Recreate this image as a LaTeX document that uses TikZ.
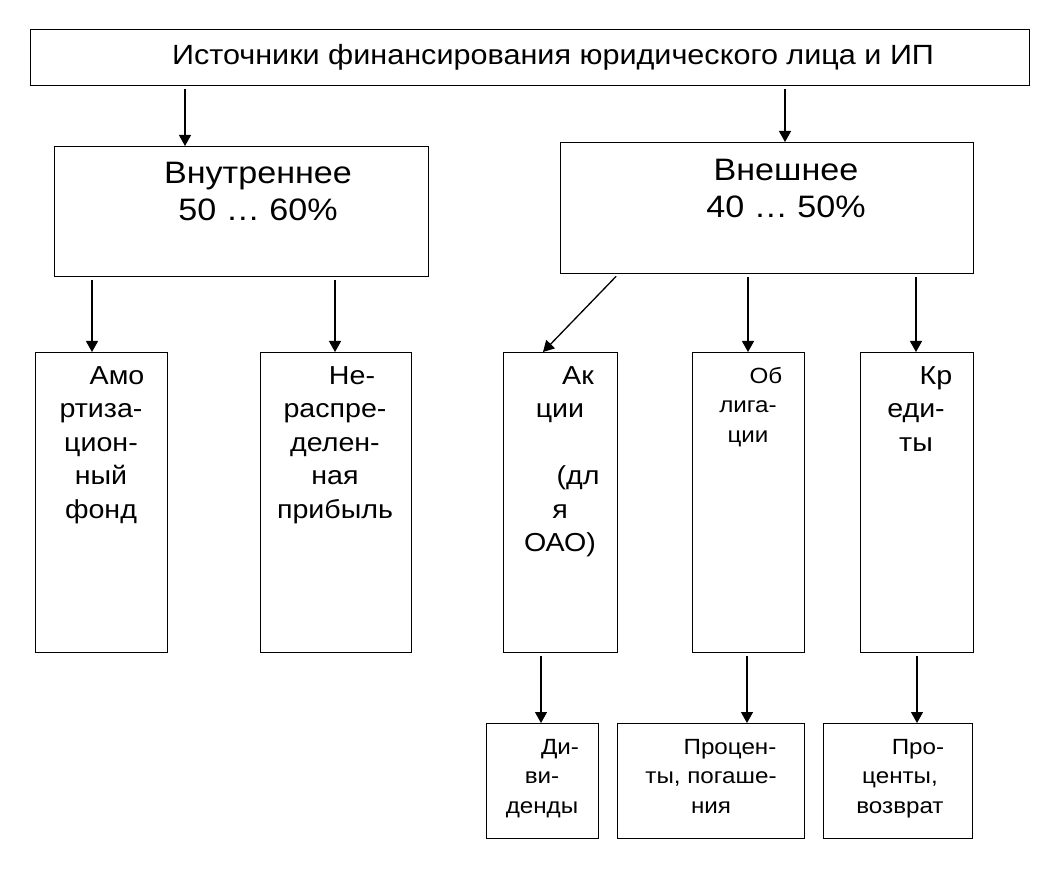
\documentclass[tikz,border=0pt]{standalone}
\usepackage{fontspec}
\setmainfont{Liberation Sans}[FakeStretch=1.1]
\usetikzlibrary{arrows.meta}

\begin{document}
\begin{tikzpicture}[x=1pt, y=-1pt,
    box/.style={draw, line width=1.2pt, inner sep=0pt, anchor=north west},
    txt/.style={align=center, anchor=north, inner sep=0pt},
    big/.style={font=\fontsize{31}{37}\selectfont},
    mid/.style={font=\fontsize{26}{33.5}\selectfont},
    small/.style={font=\fontsize{22}{29.5}\selectfont},
    arr/.style={-{Triangle[length=11pt, width=12pt]}, line width=1.3pt, shorten <=3pt}]
    \useasboundingbox (0,0) rectangle (1047,885);

    % Top level
    \node[box, minimum width=999pt, minimum height=56pt] (src) at (30,29) {};
    \node[txt, font=\fontsize{27.8}{32}\selectfont] (srcT) at (553,44) {Источники финансирования юридического лица и ИП};

    % Internal / external
    \node[box, minimum width=374pt, minimum height=130pt] (inner) at (54,146) {};
    \node[txt, big] (innerT) at (258,162) {Внутреннее\\50 … 60\%};
    \node[box, minimum width=413pt, minimum height=131pt] (outer) at (560,142) {};
    \node[txt, big] (outerT) at (786,159) {Внешнее\\40 … 50\%};

    % Sources
    \node[box, minimum width=132pt, minimum height=300pt] (amort) at (35,352) {};
    \node[txt, mid] (amortT) at (101,366) {\hspace*{32pt}Амо\\ртиза-\\цион-\\ный\\фонд};
    \node[box, minimum width=151pt, minimum height=300pt] (profit) at (260,352) {};
    \node[txt, mid] (profitT) at (335,366) {\hspace*{34pt}Не-\\распре-\\делен-\\ная\\прибыль};
    \node[box, minimum width=114pt, minimum height=300pt] (shares) at (503,352) {};
    \node[txt, mid] (sharesT) at (560,366) {\hspace*{36pt}Ак\\ции\\ \\\hspace*{36pt}(дл\\я\\ОАО)};
    \node[box, minimum width=112pt, minimum height=300pt] (bonds) at (692,352) {};
    \node[txt, small] (bondsT) at (748,367) {\hspace*{36pt}Об\\лига-\\ции};
    \node[box, minimum width=113pt, minimum height=300pt] (credits) at (860,352) {};
    \node[txt, mid] (creditsT) at (916,366) {\hspace*{40pt}Кр\\еди-\\ты};

    % Payments
    \node[box, minimum width=112pt, minimum height=115pt] (divid) at (486,723) {};
    \node[txt, small] (dividT) at (542,739) {\hspace*{36pt}Ди-\\ви-\\денды};
    \node[box, minimum width=187pt, minimum height=115pt] (repay) at (617,723) {};
    \node[txt, small] (repayT) at (711,739) {\hspace*{38pt}Процен-\\ты, погаше-\\ния};
    \node[box, minimum width=149pt, minimum height=115pt] (refund) at (823,723) {};
    \node[txt, small] (refundT) at (900,739) {\hspace*{36pt}Про-\\центы,\\возврат};

    % Connectors
    \foreach \a/\b/\x in {src/inner/185, src/outer/785, inner/amort/92, inner/profit/335,
        outer/bonds/748, outer/credits/916, shares/divid/541, bonds/repay/747, credits/refund/917} {
        \coordinate (t) at (\x,0);
        \draw[arr] (\a.south -| t) -- (\b.north -| t);
    }
    \coordinate (t) at (543,0);
    \draw[arr] (outer.south -| shares.north east) -- (shares.north -| t);
\end{tikzpicture}
\end{document}
